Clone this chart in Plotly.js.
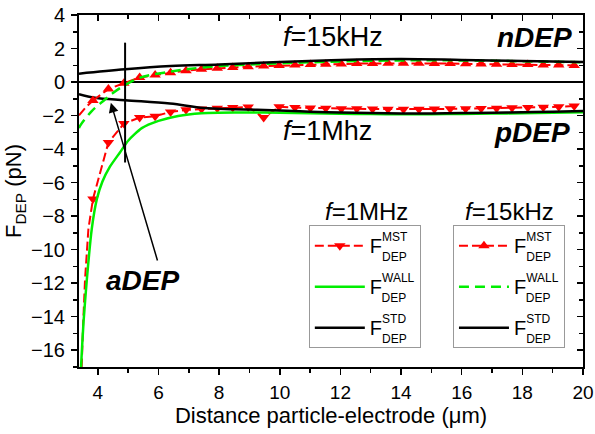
<!DOCTYPE html>
<html>
<head>
<meta charset="utf-8">
<script src="https://cdn.plot.ly/plotly-3.0.1.min.js"></script>
<style>html,body{margin:0;padding:0;background:#fff}#chart{width:595px;height:434px}</style>
</head>
<body>
<div id="chart"></div>
<script>
// Marker positions shared by both MST series (µm)
var xMarks = [3.84, 4.35, 4.86, 5.38, 5.89, 6.40, 6.91, 7.42, 7.94, 8.45, 8.96, 9.47, 9.98, 10.50, 11.01, 11.52,
              12.03, 12.54, 13.06, 13.57, 14.08, 14.59, 15.10, 15.62, 16.13, 16.64, 17.15, 17.66, 18.18, 18.69, 19.20, 19.71];

// f = 1 MHz
var mst1MHz = [-6.98, -3.60, -2.48, -2.12, -2.04, -1.78, -1.66, -1.61, -1.56, -1.52, -1.49, -2.12, -1.48, -1.52, -1.55, -1.57,
               -1.59, -1.60, -1.61, -1.62, -1.62, -1.62, -1.61, -1.60, -1.59, -1.58, -1.56, -1.54, -1.52, -1.50, -1.47, -1.43];
var mst1MHzTailX = [3.44, 3.47, 3.51, 3.58, 3.69, 3.84];
var mst1MHzTailY = [-17.8, -16.9, -14.7, -11.75, -8.77, -6.98];
var wall1MHzX = [3.43, 3.45, 3.53, 3.64, 3.80, 3.97, 4.15, 4.40, 4.73, 5.00, 5.45, 6.00, 6.65, 7.42, 8.0, 9.0, 10, 11, 12, 13, 14, 15, 16, 17, 18, 19, 20];
var wall1MHzY = [-17.8, -16.9, -14.3, -11.75, -8.77, -6.98, -5.95, -5.05, -4.2, -3.5, -2.75, -2.32, -2.02, -1.86, -1.83, -1.82, -1.83, -1.86, -1.89, -1.91, -1.92, -1.92, -1.90, -1.88, -1.86, -1.83, -1.80];
var std1MHzX = [3.38, 3.91, 4.9, 6.38, 7.5, 8.5, 10, 11, 12, 13, 14, 15, 16, 17, 18, 19, 20];
var std1MHzY = [-0.72, -0.93, -1.08, -1.28, -1.55, -1.62, -1.70, -1.77, -1.82, -1.85, -1.87, -1.87, -1.85, -1.83, -1.80, -1.77, -1.73];

// f = 15 kHz
var mst15kHz = [-1.10, -0.42, -0.07, 0.27, 0.42, 0.56, 0.68, 0.76, 0.82, 0.87, 0.91, 0.95, 0.98, 1.01, 1.04, 1.06,
                1.08, 1.10, 1.11, 1.12, 1.12, 1.12, 1.11, 1.10, 1.09, 1.08, 1.06, 1.05, 1.04, 1.02, 1.01, 0.99];
var mst15kHzTailX = [3.38, 3.60, 3.84];
var mst15kHzTailY = [-1.98, -1.52, -1.10];
var wall15kHzX = [3.38, 3.42, 3.8, 4.18, 4.5, 4.84, 5.39, 6.38, 7, 8, 9, 10, 11, 12, 13, 14, 15, 16, 17, 18, 19, 20];
var wall15kHzY = [-2.75, -2.6, -1.73, -1.13, -0.65, -0.24, 0.26, 0.62, 0.78, 0.95, 1.05, 1.12, 1.18, 1.23, 1.27, 1.29, 1.30, 1.29, 1.27, 1.24, 1.21, 1.18];
var std15kHzX = [3.38, 4.9, 6.4, 8, 10, 12, 14, 16, 18, 20];
var std15kHzY = [0.50, 0.76, 0.95, 1.05, 1.20, 1.32, 1.37, 1.32, 1.26, 1.20];

// Legend label parts
var supLabels = ['MST', 'WALL', 'STD'];
var subLabel = 'DEP';

// F with superscript stacked over subscript
function stacked(sup, back) {
  var head = sup.slice(0, -1), last = sup.slice(-1);
  return 'F<span style="font-size:12px;baseline-shift:12px">' + head +
         '<span style="letter-spacing:-' + back + 'px">' + last + '</span></span>' +
         '<span style="font-size:12px;baseline-shift:-8px">' + subLabel + '</span>';
}
var legendNames = [stacked(supLabels[0], 25.3), stacked(supLabels[1], 32.7), stacked(supLabels[2], 24.0)];

var RED = '#ff0000', GREEN = '#00ee00', BLACK = '#000000';
var RED_DASH = '9px,4px';

var traces = [
  // 1 MHz
  {x: mst1MHzTailX, y: mst1MHzTailY, mode: 'lines', line: {color: RED, width: 2, dash: RED_DASH}, legendgroup: 'a1', showlegend: false, legend: 'legend', hoverinfo: 'skip'},
  {x: xMarks, y: mst1MHz, mode: 'lines+markers', name: legendNames[0], legendgroup: 'a1', legend: 'legend',
   line: {color: RED, width: 2, dash: RED_DASH}, marker: {symbol: 'triangle-down', size: 10, color: RED}},
  {x: wall1MHzX, y: wall1MHzY, mode: 'lines', name: legendNames[1], legendgroup: 'a2', legend: 'legend',
   line: {color: GREEN, width: 2.5, shape: 'spline', smoothing: 0.6}},
  {x: std1MHzX, y: std1MHzY, mode: 'lines', name: legendNames[2], legendgroup: 'a3', legend: 'legend',
   line: {color: BLACK, width: 2.5, shape: 'spline'}},
  // 15 kHz
  {x: mst15kHzTailX, y: mst15kHzTailY, mode: 'lines', line: {color: RED, width: 2, dash: RED_DASH}, legendgroup: 'b1', showlegend: false, legend: 'legend2', hoverinfo: 'skip'},
  {x: xMarks, y: mst15kHz, mode: 'lines+markers', name: legendNames[0], legendgroup: 'b1', legend: 'legend2',
   line: {color: RED, width: 2, dash: RED_DASH}, marker: {symbol: 'triangle-up', size: 10, color: RED}},
  {x: wall15kHzX, y: wall15kHzY, mode: 'lines', name: legendNames[1], legendgroup: 'b2', legend: 'legend2',
   line: {color: GREEN, width: 2.5, dash: '10px,6px', shape: 'spline'}},
  {x: std15kHzX, y: std15kHzY, mode: 'lines', name: legendNames[2], legendgroup: 'b3', legend: 'legend2',
   line: {color: BLACK, width: 2.5, shape: 'spline'}}
];

var FONT = 'Liberation Sans, Arial, sans-serif';
var legendCommon = {
  xanchor: 'left', yanchor: 'top', bgcolor: '#ffffff', bordercolor: '#999999', borderwidth: 1,
  font: {family: FONT, size: 20, color: '#000'}, tracegroupgap: 12, itemwidth: 50, traceorder: 'grouped'
};

var layout = {
  width: 595, height: 434,
  margin: {l: 79, r: 12, t: 15, b: 67},
  paper_bgcolor: '#fff', plot_bgcolor: '#fff',
  font: {family: FONT, color: '#000'},
  showlegend: true,
  legend: Object.assign({x: 0.456, y: 0.403}, legendCommon),
  legend2: Object.assign({x: 0.742, y: 0.403}, legendCommon),
  xaxis: {
    range: [3.38, 20], showgrid: false, zeroline: false,
    showline: true, linecolor: '#000', linewidth: 2,
    ticks: 'outside', ticklen: 6, tickwidth: 1.5, tickcolor: '#000', dtick: 2, tick0: 0,
    minor: {dtick: 1, ticks: 'outside', ticklen: 4, tickwidth: 1.5, tickcolor: '#000'},
    tickfont: {family: FONT, size: 19}, ticklabelstandoff: 1,
    title: {text: 'Distance particle-electrode (\u03bcm)', font: {family: FONT, size: 22}, standoff: 4}
  },
  yaxis: {
    range: [-17, 4], showgrid: false,
    zeroline: true, zerolinecolor: '#000', zerolinewidth: 2.5,
    showline: true, linecolor: '#000', linewidth: 2,
    ticks: 'outside', ticklen: 6, tickwidth: 1.5, tickcolor: '#000', dtick: 2, tick0: 0,
    minor: {dtick: 1, ticks: 'outside', ticklen: 4, tickwidth: 1.5, tickcolor: '#000'},
    tickfont: {family: FONT, size: 20}, ticklabelstandoff: 2,
    title: {text: 'F<sub>DEP</sub> (pN)', font: {family: FONT, size: 22}, standoff: 3}
  },
  xaxis2: {
    overlaying: 'x', matches: 'x', side: 'top', range: [3.38, 20], showgrid: false, zeroline: false,
    showline: true, linecolor: '#000', linewidth: 2, showticklabels: false,
    ticks: 'inside', ticklen: 6, tickwidth: 1.5, tickcolor: '#000', dtick: 2, tick0: 0,
    minor: {dtick: 1, ticks: 'inside', ticklen: 4, tickwidth: 1.5, tickcolor: '#000'}
  },
  yaxis2: {
    overlaying: 'y', matches: 'y', side: 'right', range: [-17, 4], showgrid: false, zeroline: false,
    showline: true, linecolor: '#000', linewidth: 2, showticklabels: false,
    ticks: 'inside', ticklen: 6, tickwidth: 1.5, tickcolor: '#000', dtick: 2, tick0: 0,
    minor: {dtick: 1, ticks: 'inside', ticklen: 4, tickwidth: 1.5, tickcolor: '#000'}
  },
  shapes: [
    {type: 'line', xref: 'x', yref: 'y', x0: 4.9, x1: 4.9, y0: 2.35, y1: -4.8, line: {color: '#000', width: 2}}
  ],
  annotations: [
    {xref: 'x', yref: 'y', x: 11.74, y: 2.66, text: '<i>f</i>=15kHz', showarrow: false, font: {family: FONT, size: 27}},
    {xref: 'x', yref: 'y', x: 11.57, y: -2.93, text: '<i>f</i>=1Mhz', showarrow: false, font: {family: FONT, size: 27}},
    {xref: 'x', yref: 'y', x: 18.4, y: 2.66, text: '<b><i>nDEP</i></b>', showarrow: false, font: {family: FONT, size: 28}},
    {xref: 'x', yref: 'y', x: 18.33, y: -3.0, text: '<b><i>pDEP</i></b>', showarrow: false, font: {family: FONT, size: 28}},
    {xref: 'x', yref: 'y', x: 5.49, y: -11.85,
     text: '<b><i>aDEP</i></b>', showarrow: false, font: {family: FONT, size: 28}},
    {xref: 'x', yref: 'y', axref: 'x', ayref: 'y', x: 4.43, y: -1.23, ax: 6.05, ay: -11.15, text: ' ',
     showarrow: true, arrowhead: 2, arrowsize: 1.3, arrowwidth: 1.5, arrowcolor: '#000', standoff: 0, startstandoff: 0},
    {xref: 'paper', yref: 'paper', x: 0.571, y: 0.443, xanchor: 'center', yanchor: 'middle',
     text: '<i>f</i>=1MHz', showarrow: false, font: {family: FONT, size: 24}},
    {xref: 'paper', yref: 'paper', x: 0.855, y: 0.443, xanchor: 'center', yanchor: 'middle',
     text: '<i>f</i>=15kHz', showarrow: false, font: {family: FONT, size: 24}}
  ]
};

// helper trace so the mirrored top/right axes are drawn
traces.push({x: [], y: [], xaxis: 'x2', yaxis: 'y2', showlegend: false, hoverinfo: 'skip'});

Plotly.newPlot('chart', traces, layout, {displayModeBar: false, staticPlot: true});
</script>
</body>
</html>
